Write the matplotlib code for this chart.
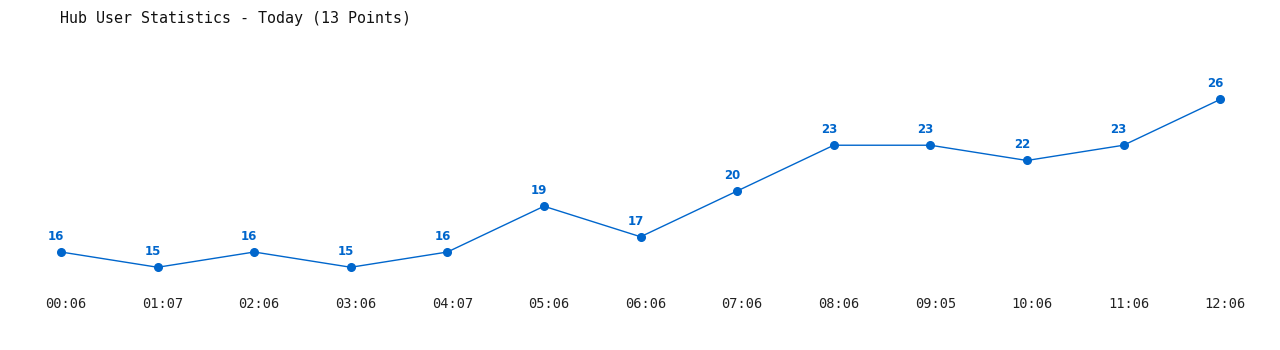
import matplotlib
matplotlib.use("Agg")
import matplotlib.pyplot as plt
from matplotlib.transforms import ScaledTranslation

times = ["00:06", "01:07", "02:06", "03:06", "04:07", "05:06", "06:06",
         "07:06", "08:06", "09:05", "10:06", "11:06", "12:06"]
users = [16, 15, 16, 15, 16, 19, 17, 20, 23, 23, 22, 23, 26]
title = "Hub User Statistics - Today (13 Points)"

blue = "#0066cc"

fig = plt.figure(figsize=(12.8, 3.5), dpi=100)
# axes covers top part of figure, tick labels below
ax = fig.add_axes([0, 60 / 350, 1, 290 / 350])

xs = list(range(len(users)))
ax.plot(xs, users, color=blue, lw=1, marker="o", ms=5.5)
for x, v in zip(xs, users):
    ax.annotate(str(v), (x, v), xytext=(-3.5, 6.5), textcoords="offset points",
                ha="center", va="bottom", color=blue, fontsize=8.5,
                fontweight="bold", family="DejaVu Sans")

ax.set_xlim(-0.632, 12.62)
ax.set_ylim(13.51, 32.52)
ax.set_xticks(xs)
ax.set_xticklabels(times, family="DejaVu Sans Mono", fontsize=9.8, color="#222222")
ax.tick_params(axis="x", length=0, pad=5)
shift = ScaledTranslation(5 / 100, 0, fig.dpi_scale_trans)
for lab in ax.get_xticklabels():
    lab.set_transform(lab.get_transform() + shift)
ax.set_yticks([])
for s in ax.spines.values():
    s.set_visible(False)

fig.text(60 / 1280, 1 - 18 / 350, title, family="DejaVu Sans Mono",
         fontsize=10.8, va="center", ha="left", color="#111111")

fig.savefig("out.png", dpi=100)
